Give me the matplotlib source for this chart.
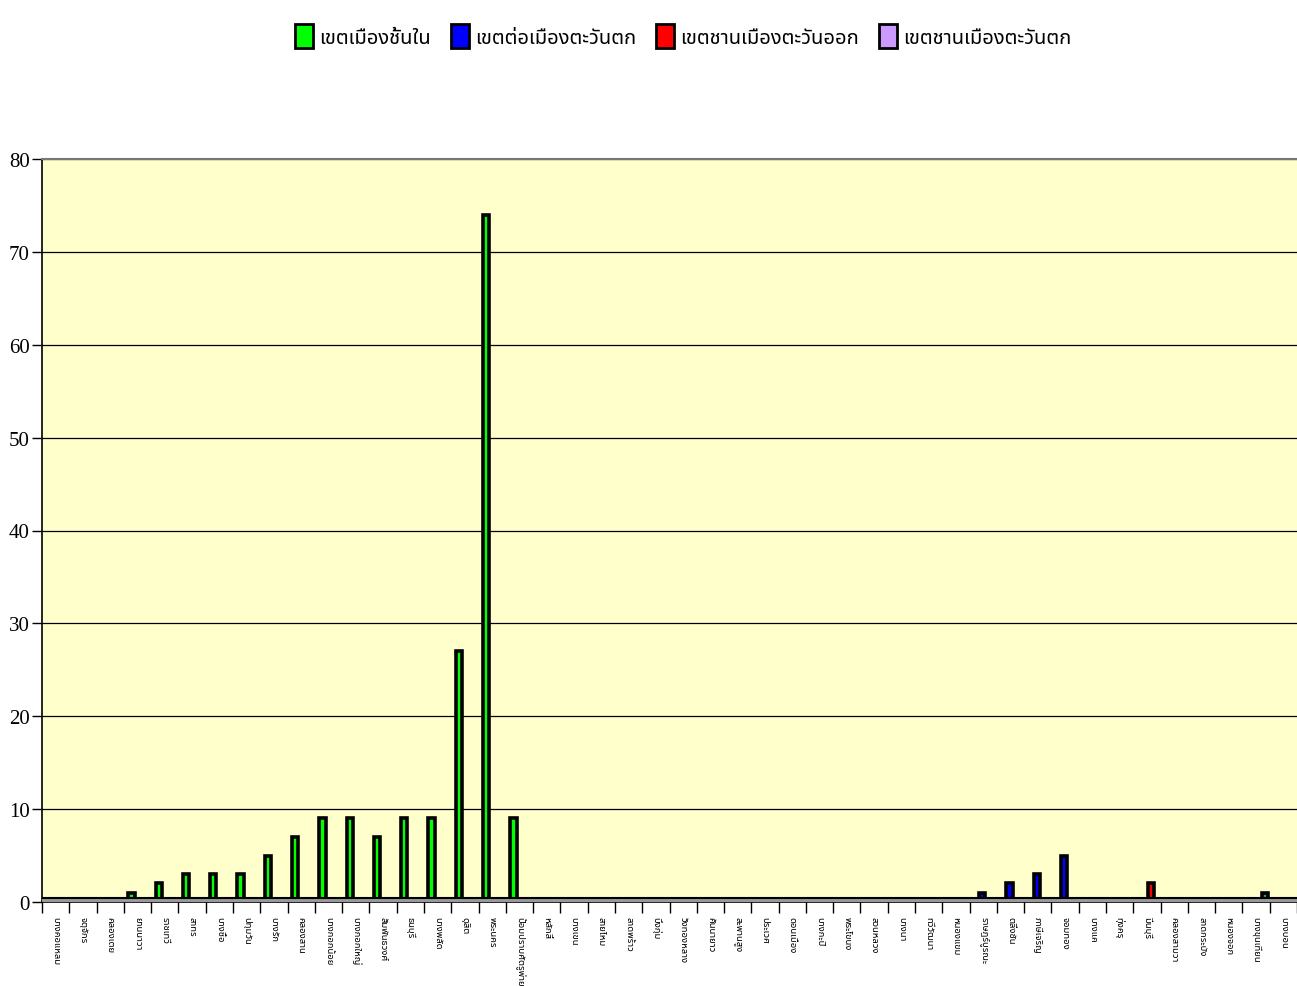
import matplotlib
matplotlib.use("Agg")
import matplotlib.pyplot as plt
import matplotlib.font_manager as fm
from matplotlib.ft2font import FT2Font
from matplotlib.patches import Patch
from matplotlib.ticker import FixedLocator, NullFormatter
import numpy as np

categories = ["บางคอแหลม", "จตุจักร", "คลองเตย", "ยานนาวา", "ราชเทวี", "สาทร", "บางซื่อ",
              "ปทุมวัน", "บางรัก", "คลองสาน", "บางกอกน้อย", "บางกอกใหญ่", "สัมพันธวงศ์",
              "ธนบุรี", "บางพลัด", "ดุสิต", "พระนคร", "ป้อมปราบศัตรูพ่าย", "หลักสี่", "บางเขน",
              "สายไหม", "ลาดพร้าว", "บึงกุ่ม", "วังทองหลาง", "คันนายาว", "สะพานสูง", "ประเวศ",
              "ดอนเมือง", "บางกะปิ", "พระโขนง", "สวนหลวง", "บางนา", "ทวีวัฒนา", "หนองแขม",
              "ราษฎร์บูรณะ", "ตลิ่งชัน", "ภาษีเจริญ", "จอมทอง", "บางแค", "ทุ่งครุ", "มีนบุรี",
              "คลองสามวา", "ลาดกระบัง", "หนองจอก", "บางขุนเทียน", "บางบอน"]

series_names = ["เขตเมืองชั้นใน", "เขตต่อเมืองตะวันตก", "เขตชานเมืองตะวันออก", "เขตชานเมืองตะวันตก"]

inner = [0, 0, 0, 1, 2, 3, 3, 3, 5, 7, 9, 9, 7, 9, 9, 27, 74, 9] + [0] * 28
west_mid = [0] * 34 + [1, 2, 3, 5] + [0] * 8
east_sub = [0] * 40 + [2] + [0] * 5
west_sub = [0] * 44 + [1, 0]

series_values = [inner, west_mid, east_sub, west_sub]
legend_colors = ["#00FF00", "#0000FF", "#FF0000", "#CC99FF"]
bar_colors = ["#00FF00", "#0000FF", "#FF0000", "#339966"]

yticks = [0, 10, 20, 30, 40, 50, 60, 70, 80]


def find_thai_font():
    found = []
    for f in fm.fontManager.ttflist:
        try:
            ft = FT2Font(f.fname)
            if ft.get_char_index(0x0E01) and ft.get_char_index(0x0E40):
                found.append(f.name)
        except Exception:
            pass
    for pref in ["Noto Sans Thai", "Noto Serif Thai", "Loma", "Garuda", "Norasi", "DejaVu Sans"]:
        if pref in found:
            return pref
    return found[0] if found else "DejaVu Sans"


thai = find_thai_font()
plt.rcParams["font.family"] = [thai, "DejaVu Sans"]

W, H = 1297, 987
fig = plt.figure(figsize=(W / 100, H / 100), dpi=100)
ax = fig.add_axes([42 / W, 1 - 903 / H, 1 - 42 / W, (903 - 160) / H])
ax.set_facecolor("#FFFFCC")

x = np.arange(len(categories))
offsets = [-0.22, -0.04, 0.15, 0.33]
for vals, col, off in zip(series_values, bar_colors, offsets):
    ax.bar(x + off, vals, width=0.23, color=col, edgecolor="black", linewidth=2.6, zorder=3)

ax.axhspan(0, 0.4, color="#999999", zorder=4)
ax.axhline(0.4, color="black", lw=1.5, zorder=4)

ax.set_xlim(-0.5, len(categories) - 0.5)
ax.set_ylim(0, 80)
ax.set_yticks(yticks)
ax.yaxis.grid(True, color="black", lw=0.9, zorder=1)
ax.set_axisbelow(True)
ax.tick_params(axis="y", direction="out", length=7, width=1, labelsize=15, pad=2)
for t in ax.get_yticklabels():
    t.set_fontfamily(["Liberation Serif"])

ax.set_xticks(x)
ax.set_xticklabels(categories, rotation=270, fontsize=6.8, va="top", ha="center")
ax.tick_params(axis="x", which="major", length=0, pad=10)
ax.xaxis.set_minor_locator(FixedLocator(np.arange(-0.5, len(categories), 1.0)))
ax.xaxis.set_minor_formatter(NullFormatter())
ax.tick_params(axis="x", which="minor", direction="out", length=8, width=1, color="black")

ax.spines["right"].set_visible(False)
ax.spines["top"].set_color("#777777")
ax.spines["top"].set_linewidth(1.5)
ax.spines["left"].set_linewidth(1.2)
ax.spines["bottom"].set_linewidth(1.2)

handles = [Patch(facecolor=c, edgecolor="black", linewidth=2) for c in legend_colors]
fig.legend(handles, series_names, loc="center", bbox_to_anchor=(683 / W, 1 - 37 / H), ncol=4,
           frameon=False, fontsize=14.5, handlelength=0.9, handleheight=1.4, handletextpad=0.3,
           columnspacing=1.0)

fig.savefig("out.png", dpi=100)
